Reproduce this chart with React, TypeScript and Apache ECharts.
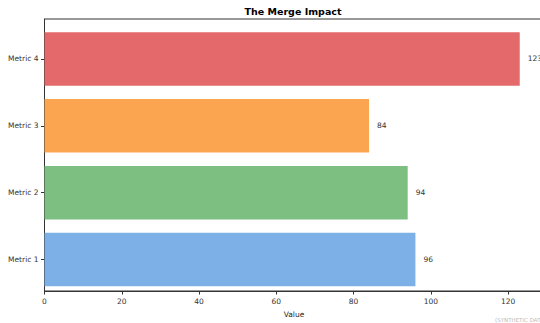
import React, { useEffect, useRef } from "react";
import * as echarts from "echarts";

const categories = ["Metric 1", "Metric 2", "Metric 3", "Metric 4"];
const values = [96, 94, 84, 123];
const barColors = ["#7eb0e8", "#7dbf80", "#fca550", "#e3696a"];
const xTicks = [0, 20, 40, 60, 80, 100, 120];

const xMax = Math.max(...values) * 1.05;
const font = "DejaVu Sans";

export default function App() {
  const ref = useRef<HTMLDivElement>(null);

  useEffect(() => {
    if (!ref.current) return;
    const chart = echarts.init(ref.current, undefined, { renderer: "svg" });
    chart.setOption({
      animation: false,
      backgroundColor: "#ffffff",
      textStyle: { fontFamily: font },
      title: {
        text: "The Merge Impact",
        left: 293,
        top: 6,
        padding: 0,
        textAlign: "center",
        textStyle: { fontSize: 9.5, fontWeight: "bold", color: "#000", fontFamily: font },
      },
      grid: [
        // frame with the value axis
        { left: 44.5, top: 19, right: 2.5, bottom: 26, show: true, borderColor: "#333", borderWidth: 1, backgroundColor: "transparent" },
        // bar area, inset by the axis margins
        { left: 44.5, top: 25.5, right: 2.5, bottom: 30 },
      ],
      xAxis: [
        {
          gridIndex: 0,
          type: "value",
          min: 0,
          max: xMax,
          interval: 20,
          axisLine: { show: true, lineStyle: { color: "#333", width: 1 } },
          axisTick: { show: true, length: 3.5, lineStyle: { color: "#333" } },
          axisLabel: {
            fontSize: 7.5,
            color: "#333",
            margin: 6,
            fontFamily: font,
            formatter: (v: number) => (xTicks.includes(v) ? String(v) : ""),
            showMaxLabel: false,
          },
          splitLine: { show: false },
          name: "Value",
          nameLocation: "middle",
          nameGap: 19,
          nameTextStyle: { fontSize: 7.5, color: "#222", fontFamily: font },
        },
        {
          gridIndex: 1,
          type: "value",
          min: 0,
          max: xMax,
          show: false,
        },
      ],
      yAxis: [
        {
          gridIndex: 0,
          type: "value",
          min: 0,
          max: 1,
          axisLine: { show: true, lineStyle: { color: "#333", width: 1 } },
          axisTick: { show: false },
          axisLabel: { show: false },
          splitLine: { show: false },
        },
        {
          gridIndex: 1,
          type: "category",
          data: categories,
          axisLine: { show: false },
          axisTick: { show: true, length: 3.5, alignWithLabel: true, lineStyle: { color: "#333" } },
          axisLabel: { fontSize: 7.5, color: "#333", margin: 6, fontFamily: font },
        },
      ],
      series: [
        {
          type: "bar",
          xAxisIndex: 1,
          yAxisIndex: 1,
          barWidth: "80%",
          data: values.map((v, i) => ({ value: v, itemStyle: { color: barColors[i] } })),
          label: {
            show: true,
            position: "right",
            distance: 8,
            fontSize: 7.5,
            color: "#333",
            fontFamily: font,
          },
        },
      ],
      graphic: [
        {
          type: "text",
          right: 0,
          bottom: 0,
          style: { text: "(SYNTHETIC DATA)", fontSize: 5.5, fill: "#bbb", fontFamily: font },
        },
      ],
    });
    return () => chart.dispose();
  }, []);

  return (
    <div style={{ position: "fixed", left: 0, top: 0, width: 540, height: 323, overflow: "hidden" }}>
      <div ref={ref} style={{ width: 546, height: 323 }} />
    </div>
  );
}
